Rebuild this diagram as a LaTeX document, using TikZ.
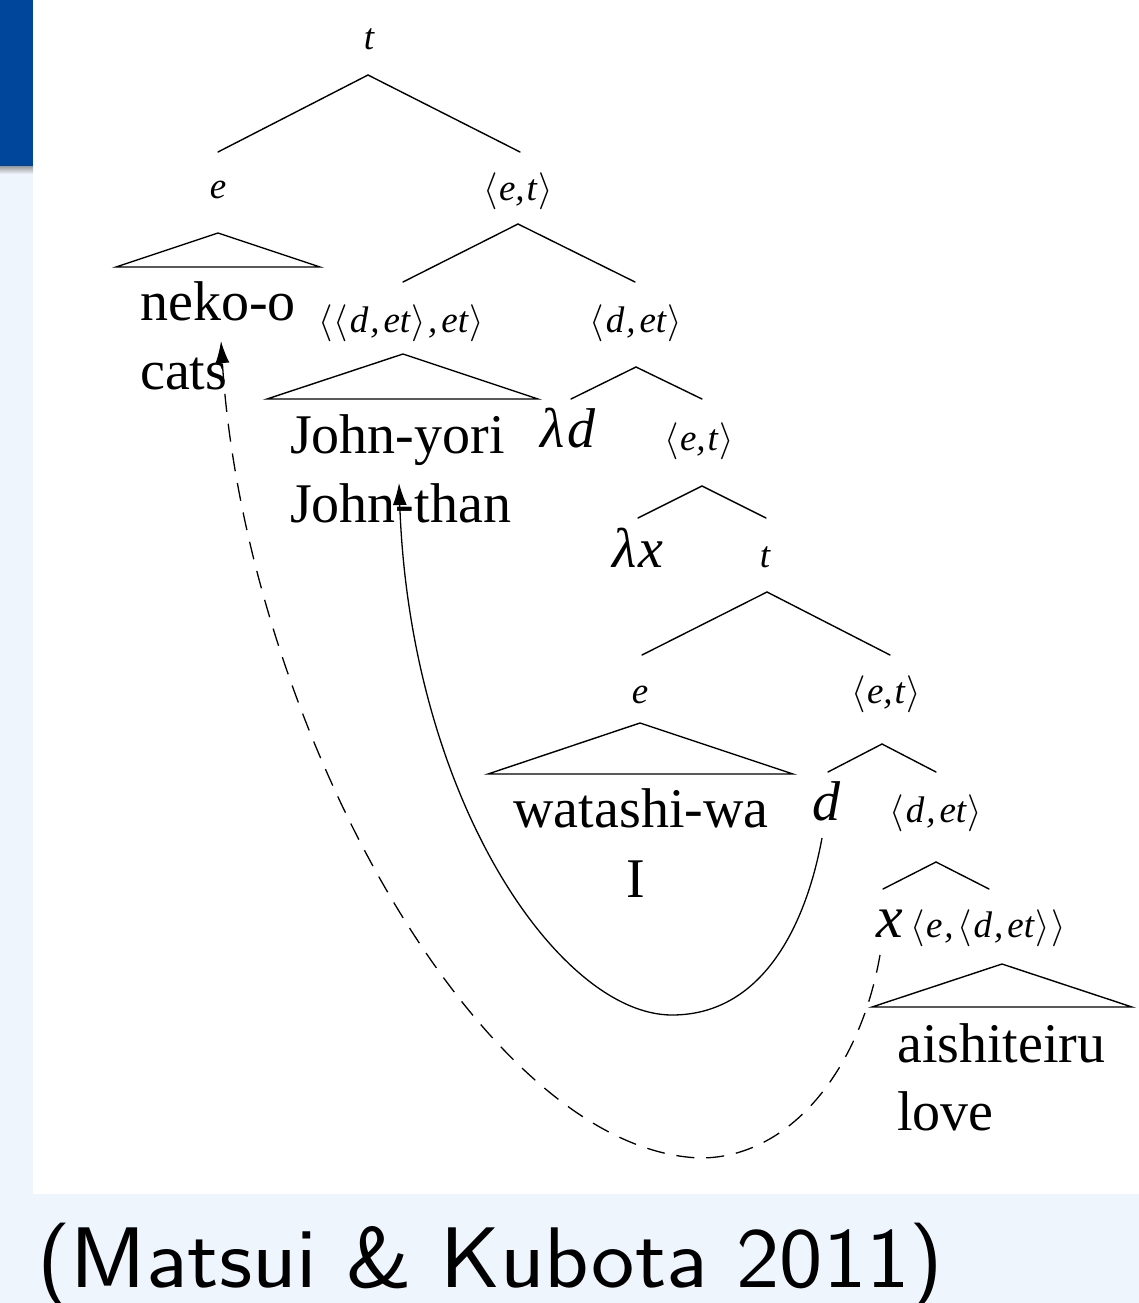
\RequirePackage{fix-cm}
\documentclass[tikz,border=0pt]{standalone}
\usepackage{fontspec}
\usepackage{graphicx}
\setmainfont{Liberation Serif}
\usetikzlibrary{arrows.meta}
\definecolor{bluebar}{RGB}{0,71,155}
\definecolor{lightbg}{RGB}{238,245,253}
\newcommand\ang[1]{\ensuremath{\langle}\kern1.5pt#1\kern1.5pt\ensuremath{\rangle}}
\newcommand\cm{\kern2pt,\kern4pt}
\newcommand\cmt{,\kern2pt}
\tikzset{
  edge/.style={line width=1.4pt, line cap=round},
  typelab/.style={font=\fontsize{37}{40}\selectfont\itshape, anchor=base, inner sep=0pt},
  word/.style={font=\fontsize{56}{60}\selectfont, anchor=base west, inner sep=0pt},
  wordc/.style={font=\fontsize{56}{60}\selectfont, anchor=base, inner sep=0pt},
  bigit/.style={font=\fontsize{56}{60}\selectfont\itshape, anchor=base, inner sep=0pt},
  moveline/.style={line width=1.3pt, -{Latex[length=22pt,width=14pt]}},
  movedash/.style={moveline, dash pattern=on 18pt off 12pt}
}
\begin{document}
\begin{tikzpicture}[x=1pt,y=-1pt]
\useasboundingbox (0,0) rectangle (1139,1303);
\fill[lightbg] (0,0) rectangle (1139,1303);
\fill[white] (33,0) rectangle (1139,1194);
\fill[bluebar] (0,0) rectangle (33,166);
\shade[top color=gray!80, bottom color=lightbg] (0,166) rectangle (33,174);

% labels
\node[typelab] (t1) at (369,50) {t};
\node[typelab] (e1) at (218,198) {e};
\node[typelab] (et1) at (518,200) {\ang{e\cmt t}};
\node[word] (neko) at (140,320) {neko-o};
\node[word] (cats) at (140,389) {cats};
\node[typelab] (ddet) at (401,332) {\ang{\ang{d\cm et}\cm et}};
\node[typelab] (det1) at (636,332) {\ang{d\cm et}};
\node[word] (jy) at (290,453) {John-yori};
\node[word] (jt) at (290,522) {John-than};
\node[bigit] (ld) at (568,447) {λ\kern2pt d};
\node[typelab] (et2) at (699,450) {\ang{e\cmt t}};
\node[bigit] (lx) at (638,567) {λ\kern2pt x};
\node[typelab] (t2) at (765,567) {t};
\node[typelab] (e2) at (640,703) {e};
\node[typelab] (et3) at (886,703) {\ang{e\cmt t}};
\node[wordc] (wat) at (641,827) {watashi-wa};
\node[wordc] (I) at (636,897) {I};
\node[bigit] (d) at (826,820) {d};
\node[typelab] (det2) at (936,822) {\ang{d\cm et}};
\node[bigit] (x) at (890,937) {\fontsize{60}{60}\selectfont x};
\node[typelab] (edet) at (988,937) {\ang{e\cm\ang{d\cm et}}};
\node[word] (aish) at (897,1062) {aishiteiru};
\node[word] (love) at (897,1130) {love};

% tree edges
\coordinate (a1) at (368,75);
\draw[edge] (218,152) -- (a1) -- (520,152);
\draw[edge] (116,267) -- (218,233) -- (320,267) -- cycle;
\coordinate (a2) at (518,224);
\draw[edge] (403,282) -- (a2) -- (635,282);
\draw[edge] (267,399) -- (403,354) -- (538,399) -- cycle;
\coordinate (a3) at (636,367);
\draw[edge] (571,399) -- (a3) -- (702,399);
\coordinate (a4) at (702,486);
\draw[edge] (638,518) -- (a4) -- (766,518);
\coordinate (a5) at (767,592);
\draw[edge] (642,655) -- (a5) -- (890,655);
\draw[edge] (488,774) -- (640,723) -- (793,774) -- cycle;
\coordinate (a6) at (882,744);
\draw[edge] (828,772) -- (a6) -- (936,772);
\coordinate (a7) at (936,862);
\draw[edge] (883,889) -- (a7) -- (989,889);
\draw[edge] (872,1007) -- (1002,964) -- (1132,1007) -- cycle;

% movement arrows
\coordinate (dfoot) at (822,838);
\coordinate (jtip) at (399,483);
\coordinate (xfoot) at (880,955);
\coordinate (ctip) at (221,341);
\draw[moveline] (dfoot) .. controls (805,930) and (760,1015) .. (672,1015)
   .. controls (560,1015) and (410,800) .. (jtip);
\draw[movedash] (xfoot) .. controls (860,1070) and (790,1158) .. (700,1158)
   .. controls (480,1150) and (245,720) .. (ctip);

% caption
\node[anchor=base west, font=\sffamily\fontsize{86}{90}\selectfont, inner sep=0pt] (cap) at (37,1287) {\scalebox{1.07}[1]{(Matsui \& Kubota 2011)}};
\end{tikzpicture}
\end{document}
